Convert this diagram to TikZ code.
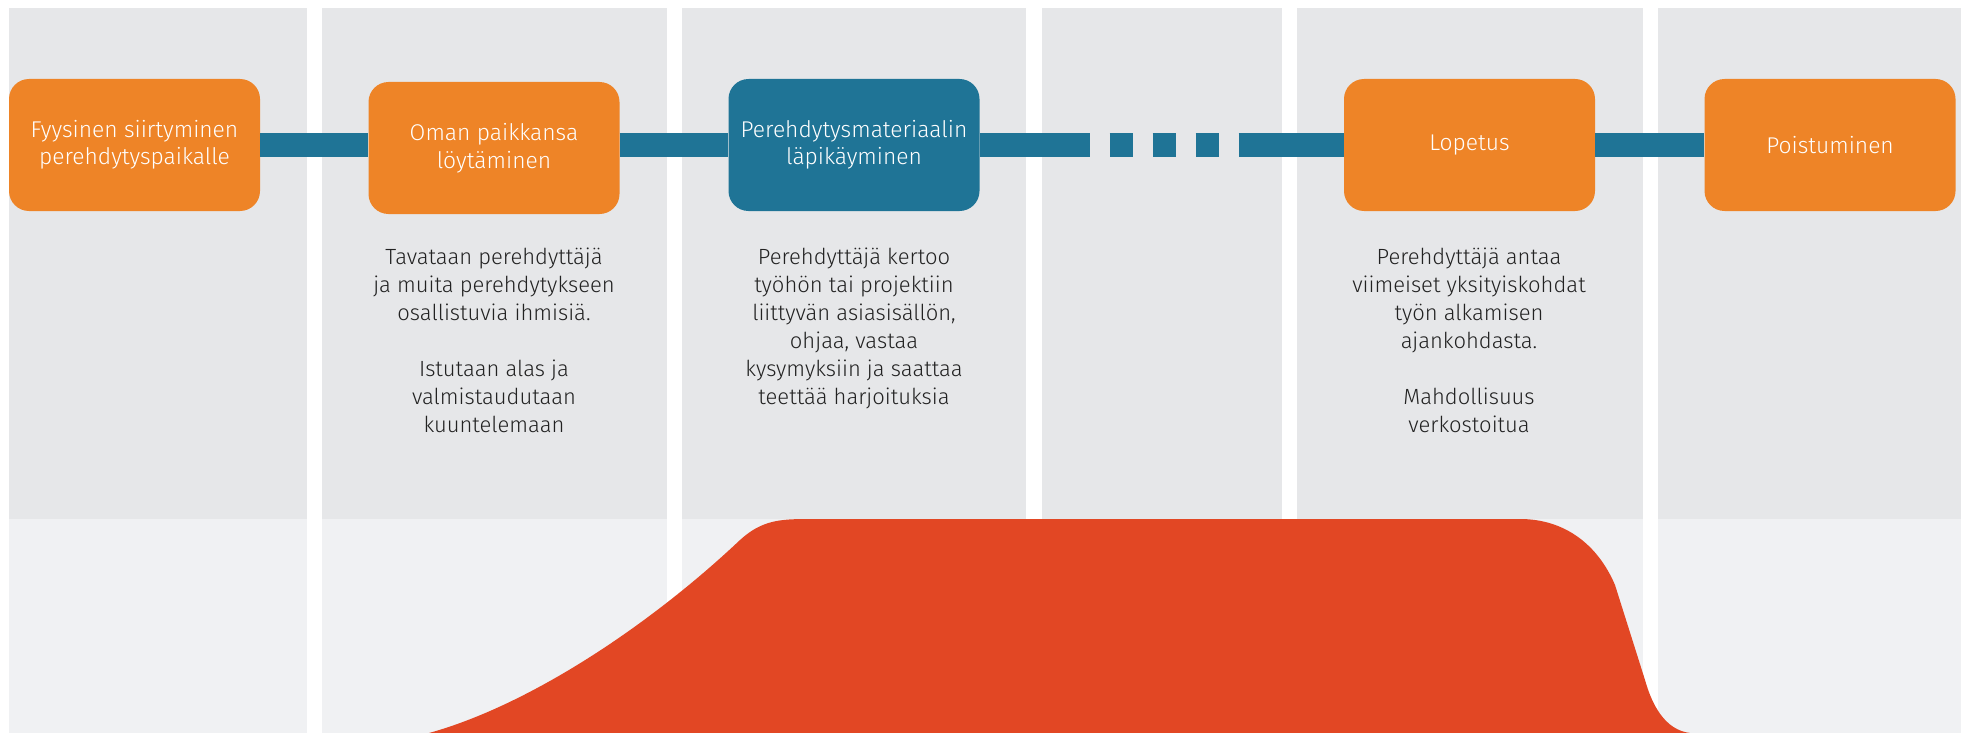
\documentclass[tikz,border=0pt]{standalone}
\usepackage{fontspec}
\setmainfont{Fira Sans Light}
\definecolor{colupper}{HTML}{E6E7E9}
\definecolor{collower}{HTML}{F0F1F3}
\definecolor{stepor}{HTML}{EE8427}
\definecolor{stepteal}{HTML}{1F7496}
\definecolor{wave}{HTML}{E24724}
\definecolor{ink}{HTML}{222222}

\begin{document}
\begin{tikzpicture}[x=1pt,y=-1pt,
  stepbox/.style={rectangle, rounded corners=20pt, minimum width=251pt,
    minimum height=132pt, inner sep=0pt, text=white, align=center,
    font=\fontsize{22.8}{27.5}\selectfont},
  orangebox/.style={stepbox, fill=stepor},
  tealbox/.style={stepbox, fill=stepteal},
  band/.style={draw=stepteal, line width=24pt},
  desc/.style={anchor=north, inner sep=0pt, align=center, text=ink,
    font=\fontsize{22}{28}\selectfont}]

\useasboundingbox (0,0) rectangle (1961,733);
\fill[white] (0,0) rectangle (1961,733);

% phase columns
\foreach \a/\b in {9/307, 322/667, 682/1026, 1042/1282, 1297/1643, 1658/1961} {
  \fill[colupper] (\a,8) rectangle (\b,519);
  \fill[collower] (\a,519) rectangle (\b,733);
}

% steps
\node[orangebox] (s1) at (134.5,145) {Fyysinen siirtyminen\\perehdytyspaikalle};
\node[orangebox] (s2) at (494,148) {Oman paikkansa\\löytäminen};
\node[tealbox]   (s3) at (854,145) {Perehdytysmateriaalin\\läpikäyminen};
\node[orangebox] (s5) at (1469.5,145) {Lopetus};
\node[orangebox] (s6) at (1830,145) {Poistuminen};

% timeline band
\draw[band] (s1.east) -- (s1.east -| s2.west);
\draw[band] (s2.east |- s3.west) -- (s3.west);
\draw[band, dash pattern=on 110pt off 20pt on 23pt off 20pt on 23pt off 20pt on 23pt off 20pt on 200pt]
  (s3.east) -- (s5.west);
\draw[band] (s5.east) -- (s6.west);

% descriptions
\node[desc] (d2) at (494,248) {Tavataan perehdyttäjä\\ja muita perehdytykseen\\osallistuvia ihmisiä.\\[28pt]Istutaan alas ja\\valmistaudutaan\\kuuntelemaan};
\node[desc] (d3) at (854,248) {Perehdyttäjä kertoo\\työhön tai projektiin\\liittyvän asiasisällön,\\ohjaa, vastaa\\kysymyksiin ja saattaa\\teettää harjoituksia};
\node[desc] (d5) at (1469,248) {Perehdyttäjä antaa\\viimeiset yksityiskohdat\\työn alkamisen\\ajankohdasta.\\[28pt]Mahdollisuus\\verkostoitua};

% intensity curve
\fill[wave] (429,733) .. controls (530,705) and (650,625) .. (740,540)
  .. controls (762,520) and (780,519) .. (810,519) -- (1520,519)
  .. controls (1565,519) and (1598,545) .. (1615,585) -- (1645,680)
  .. controls (1652,705) and (1665,730) .. (1690,733) -- cycle;
\end{tikzpicture}
\end{document}
